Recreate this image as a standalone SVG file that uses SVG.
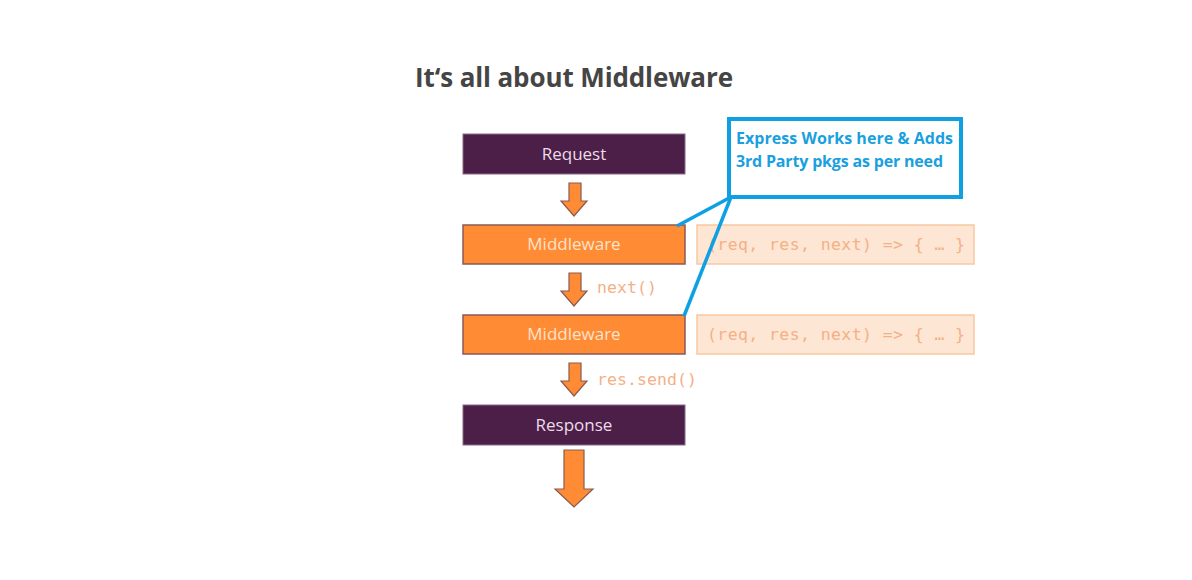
<svg xmlns="http://www.w3.org/2000/svg" width="1192" height="580" viewBox="0 0 1192 580">
<style>
.title{font-family:"Open Sans","Liberation Sans",sans-serif;font-weight:700;font-size:26px;fill:#454545}
.purple{fill:#4b1f47;stroke:#8a6a88;stroke-width:1}
.orange{fill:#ff8c34;stroke:#8a5a55;stroke-width:1.5}
.code{fill:#fde6d4;stroke:#f9c8a0;stroke-width:1.5}
.lbl{font-family:"Open Sans","Liberation Sans",sans-serif;font-size:17px;text-anchor:middle}
.lp{fill:#ecdcea}
.lo{fill:#fde2cc}
.mono{font-family:"DejaVu Sans Mono","Liberation Mono",monospace;font-size:16.5px;fill:#f4b086}
.arr{fill:#ff8c34;stroke:#8a5a50;stroke-width:1.2}
.call{fill:#fff;stroke:#0ea0e2;stroke-width:4}
.ctext{font-family:"Open Sans","Liberation Sans",sans-serif;font-weight:700;font-size:16px;fill:#1a9fe0}
.conn{stroke:#0ea0e2;stroke-width:3.5;fill:none}
</style>
<rect width="1192" height="580" fill="#fff"/>
<text class="title" x="415" y="87" textLength="318">It‘s all about Middleware</text>
<g id="arrows">
<polygon class="arr" points="569,183 581,183 581,201 587,201 574,216 561,201 569,201"/>
<polygon class="arr" points="569,273 581,273 581,291 587,291 574,306 561,291 569,291"/>
<polygon class="arr" points="569,363 581,363 581,381 587,381 574,396 561,381 569,381"/>
<polygon class="arr" points="564,450 584,450 584,489 593,489 574,507 555,489 564,489"/>
<text class="mono" x="597" y="293" textLength="60">next()</text>
<text class="mono" x="597" y="385" textLength="100">res.send()</text>
</g>
<g id="request">
<rect class="purple" x="463" y="134" width="222" height="40"/>
<text class="lbl lp" x="574" y="160">Request</text>
</g>
<g id="middleware1">
<rect class="orange" x="463" y="225" width="222" height="39"/>
<text class="lbl lo" x="574" y="250">Middleware</text>
</g>
<g id="code1">
<rect class="code" x="697" y="225" width="277" height="39"/>
<text class="mono" x="707" y="250" textLength="258">(req, res, next) =&gt; { … }</text>
</g>
<g id="middleware2">
<rect class="orange" x="463" y="315" width="222" height="39"/>
<text class="lbl lo" x="574" y="340">Middleware</text>
</g>
<g id="code2">
<rect class="code" x="697" y="315" width="277" height="39"/>
<text class="mono" x="707" y="340" textLength="258">(req, res, next) =&gt; { … }</text>
</g>
<g id="response">
<rect class="purple" x="463" y="405" width="222" height="40"/>
<text class="lbl lp" x="574" y="431">Response</text>
</g>
<g id="connectors">
<line class="conn" x1="731" y1="197" x2="677" y2="226"/>
<line class="conn" x1="731" y1="197" x2="684" y2="316"/>
</g>
<g id="callout">
<rect class="call" x="729" y="119" width="232" height="78"/>
<text class="ctext" x="736" y="144" textLength="217">Express Works here &amp; Adds</text>
<text class="ctext" x="736" y="167" textLength="207">3rd Party pkgs as per need</text>
</g>
</svg>
